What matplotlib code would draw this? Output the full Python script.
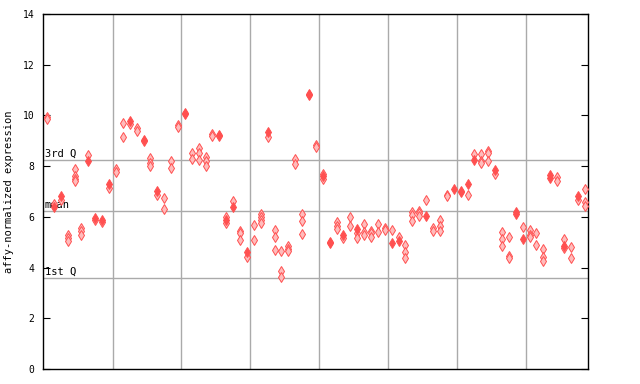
import numpy as np
import matplotlib
matplotlib.use("Agg")
import matplotlib.pyplot as plt

# expression values per sample position (0..78); two kinds of replicate marks
light_vals = [
    [9.93, 9.85], [6.5], [6.66], [5.3, 5.17, 5.05], [7.9, 7.6, 7.5, 7.4],
    [5.55, 5.45, 5.28], [8.44], [5.88], [5.8], [7.12],
    [7.88, 7.78], [9.69, 9.13], [9.65], [9.49, 9.38], [8.98],
    [8.31, 8.11, 8.02], [6.85], [6.73, 6.3], [8.19, 7.91], [9.62, 9.55],
    [], [8.5, 8.26], [8.73, 8.5, 8.23], [8.37, 8.18, 8.02], [9.27, 9.2],
    [9.18], [6.01, 5.74], [6.62], [5.45, 5.35, 5.07], [4.43],
    [5.68, 5.07], [6.12, 6.0, 5.88, 5.76], [9.13], [5.48, 5.19, 4.69], [4.67, 3.86, 3.64],
    [4.84, 4.74, 4.65], [8.28, 8.07], [6.11, 5.84, 5.31], [], [8.83, 8.76],
    [7.7, 7.48], [], [5.8, 5.64, 5.52], [5.18], [5.98, 5.64],
    [5.38, 5.15], [5.7, 5.4, 5.28], [5.45, 5.38, 5.21], [5.7, 5.4], [5.55, 5.48],
    [5.47], [5.19], [4.87, 4.6, 4.39], [6.2, 6.08, 5.82], [6.22, 6.14, 6.03],
    [6.65], [5.56, 5.45], [5.86, 5.64, 5.44], [6.86, 6.8], [],
    [], [6.86], [8.47], [8.47, 8.18, 8.12], [8.58, 8.5, 8.19],
    [7.7], [5.4, 5.13, 4.84], [5.19, 4.44, 4.38], [], [5.59],
    [5.47, 5.3, 5.19], [5.38, 4.88], [4.72, 4.43, 4.26], [], [7.56, 7.43],
    [5.11, 4.76], [4.8, 4.36], [6.66], [7.08, 6.6, 6.44],
]
solid_vals = [
    [], [6.38], [6.8], [], [],
    [], [8.18], [5.94], [5.87], [7.31],
    [], [], [9.79], [], [9.03],
    [], [7.03], [], [], [],
    [10.09, 10.05], [], [], [], [],
    [9.23], [5.88], [6.39], [], [4.63],
    [], [], [9.36], [], [],
    [], [], [], [10.84, 10.8], [],
    [7.6], [5.0, 4.96], [], [5.28], [],
    [5.52], [], [], [], [],
    [4.98], [5.06], [], [], [],
    [6.04], [], [], [], [7.11],
    [7.02, 6.96], [7.28], [8.25], [], [],
    [7.83], [], [], [6.18, 6.12], [5.14],
    [], [], [], [7.63, 7.53], [],
    [4.86], [], [6.83], [],
]
q1, mean_val, q3 = 3.6, 6.23, 8.22
yticks = [0, 2, 4, 6, 8, 10, 12, 14]

red = "#ff5050"
grid_c = "#aaaaaa"
mono = "DejaVu Sans Mono"

fig = plt.figure(figsize=(6.4, 3.84), dpi=100)
ax = fig.add_axes([0.067, 0.039, 0.852, 0.925])

n = len(light_vals)
ax.set_xlim(-0.6, n - 0.5)
ax.set_ylim(0, 14)

# group separators and quartile lines
for b in np.arange(9.5, n - 1, 10):
    ax.axvline(b, color=grid_c, lw=1, zorder=1)
for v in (q1, mean_val, q3):
    ax.axhline(v, color=grid_c, lw=1, zorder=1)

lx = [i for i, vs in enumerate(light_vals) for _ in vs]
ly = [v for vs in light_vals for v in vs]
sx = [i for i, vs in enumerate(solid_vals) for _ in vs]
sy = [v for vs in solid_vals for v in vs]
ax.plot(lx, ly, ls="none", marker="d", ms=4.6, mfc="#ffbcbc", mec=red, mew=0.7, zorder=3)
ax.plot(sx, sy, ls="none", marker="d", ms=4.6, mfc=red, mec=red, mew=0.7, zorder=4)

# quartile labels
for v, lab in ((q3, "3rd Q"), (mean_val, "mean"), (q1, "1st Q")):
    ax.text(-0.35, v + 0.05, lab, family=mono, fontsize=7.5, va="bottom", ha="left", zorder=2)

ax.set_yticks(yticks)
ax.set_yticklabels([str(t) for t in yticks], family=mono, fontsize=7)
ax.set_xticks([])
ax.tick_params(axis="y", direction="in", length=5, right=True, pad=6)
for s in ax.spines.values():
    s.set_color("black")
    s.set_linewidth(1)
ax.set_ylabel("affy-normalized expression", family=mono, fontsize=7.5, labelpad=6)

fig.savefig("out.png", dpi=100)
